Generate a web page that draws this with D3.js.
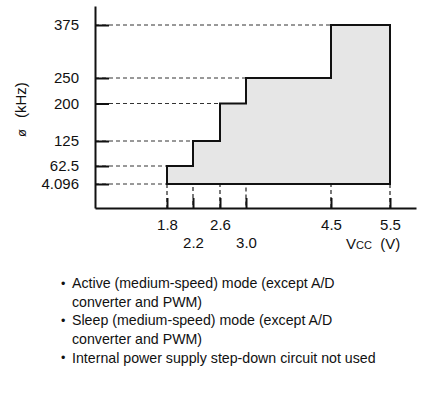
<!DOCTYPE html>
<html>
<head>
<meta charset="utf-8">
<script src="https://cdn.jsdelivr.net/npm/d3@7"></script>
<style>
  html, body { margin: 0; padding: 0; background: #fff; }
  svg text { font-family: "Liberation Sans", Arial, Helvetica, sans-serif; fill: #111; }
</style>
</head>
<body>
<svg id="chart" width="426" height="397"></svg>
<script>
// Operating frequency range vs. supply voltage
const voltages = [1.8, 2.2, 2.6, 3.0, 4.5, 5.5];          // step edges (V)
const freqs = [62.5, 125, 200, 250, 375];                 // max frequency per band (kHz)
const minFreq = 4.096;                                    // lower bound (kHz)
const yTicks = [4.096, 62.5, 125, 200, 250, 375];
const xTicks = [1.8, 2.2, 2.6, 3.0, 4.5, 5.5];
const xTickLabels = ["1.8", "2.2", "2.6", "3.0", "4.5", "5.5"];
const notes = [
  ["Active (medium-speed) mode (except A/D", "converter and PWM)"],
  ["Sleep (medium-speed) mode (except A/D", "converter and PWM)"],
  ["Internal power supply step-down circuit not used"]
];

const svg = d3.select("#chart");

// Non-uniform axes (schematic spacing)
const x = d3.scaleLinear()
  .domain([0.7, 1.8, 2.2, 2.6, 3.0, 4.5, 5.5, 5.95])
  .range([95, 167, 193, 220, 246, 331, 390, 416]);
const y = d3.scaleLinear()
  .domain([0, 4.096, 62.5, 125, 200, 250, 375, 410])
  .range([208, 184, 166, 141, 103.5, 78, 25, 6]);

// Step outline
const pts = [[voltages[0], minFreq]];
freqs.forEach((f, i) => {
  pts.push([voltages[i], f]);
  pts.push([voltages[i + 1], f]);
});
pts.push([voltages[voltages.length - 1], minFreq]);

const dash = "4,3";
const guides = svg.append("g").attr("stroke", "#333").attr("stroke-width", 1).attr("stroke-dasharray", dash).attr("fill", "none");

// Horizontal guides from the axis to the left edge of each step
const hGuides = [[minFreq, voltages[0]]].concat(freqs.map((f, i) => [f, voltages[i]]));
guides.selectAll("line.h").data(hGuides).join("line")
  .attr("class", "h")
  .attr("x1", x(0.7)).attr("x2", d => x(d[1]))
  .attr("y1", d => y(d[0])).attr("y2", d => y(d[0]));

// Vertical guides down to the voltage axis
const vGuides = voltages.map((v, i) => [v, i === 0 || i === voltages.length - 1 ? minFreq : freqs[i - 1]]);
guides.selectAll("line.v").data(vGuides).join("line")
  .attr("class", "v")
  .attr("stroke-width", 1.3)
  .attr("x1", d => x(d[0])).attr("x2", d => x(d[0]))
  .attr("y1", d => y(d[1])).attr("y2", y(0));

// Filled region
svg.append("path")
  .datum(pts)
  .attr("d", d3.line().x(d => x(d[0])).y(d => y(d[1])).curve(d3.curveLinear)(pts) + "Z")
  .attr("fill", "#e6e6e6")
  .attr("stroke", "#111")
  .attr("stroke-width", 2)
  .attr("stroke-linejoin", "miter");

// Axes
const yAxis = svg.append("g")
  .attr("transform", `translate(${x(0.7)},0)`)
  .call(d3.axisLeft(y).tickValues(yTicks).tickFormat(d => String(d))
    .tickSizeInner(-14).tickSizeOuter(0).tickPadding(16));
const xAxis = svg.append("g")
  .attr("transform", `translate(0,${y(0)})`)
  .call(d3.axisBottom(x).tickValues(xTicks).tickFormat((d, i) => xTickLabels[i])
    .tickSizeInner(-10).tickSizeOuter(0).tickPadding(11));

[yAxis, xAxis].forEach(g => {
  g.select(".domain").attr("stroke", "#111").attr("stroke-width", 2);
  g.selectAll(".tick line").attr("stroke", "#111").attr("stroke-width", 2);
  g.selectAll(".tick text").attr("font-size", 15).attr("fill", "#111")
    .attr("font-family", '"Liberation Sans", Arial, sans-serif');
});
// Stagger alternate voltage labels onto a second row
xAxis.selectAll(".tick text").filter((d, i) => i === 1 || i === 3).attr("y", 29);

// Axis titles
const yt = svg.append("text")
  .attr("transform", "translate(26,137) rotate(-90)")
  .attr("font-size", 15);
yt.append("tspan").attr("font-size", 13).text("ø");
yt.append("tspan").attr("dx", 11).text("(kHz)");

const xt = svg.append("text")
  .attr("x", 346).attr("y", 249)
  .attr("font-size", 15);
xt.append("tspan").text("V");
xt.append("tspan").attr("font-size", 11).text("CC");
xt.append("tspan").text("  (V)").attr("xml:space", "preserve");

// Notes below the chart
const notesG = svg.append("g").attr("font-size", 14.2);
let line = 0;
notes.forEach(item => {
  item.forEach((t, j) => {
    const yy = 288 + line * 18.7;
    if (j === 0) {
      notesG.append("text").attr("x", 61).attr("y", yy - 0.5).attr("font-size", 12.5).text("•");
    }
    notesG.append("text").attr("x", 72).attr("y", yy).text(t);
    line++;
  });
});
</script>
</body>
</html>
